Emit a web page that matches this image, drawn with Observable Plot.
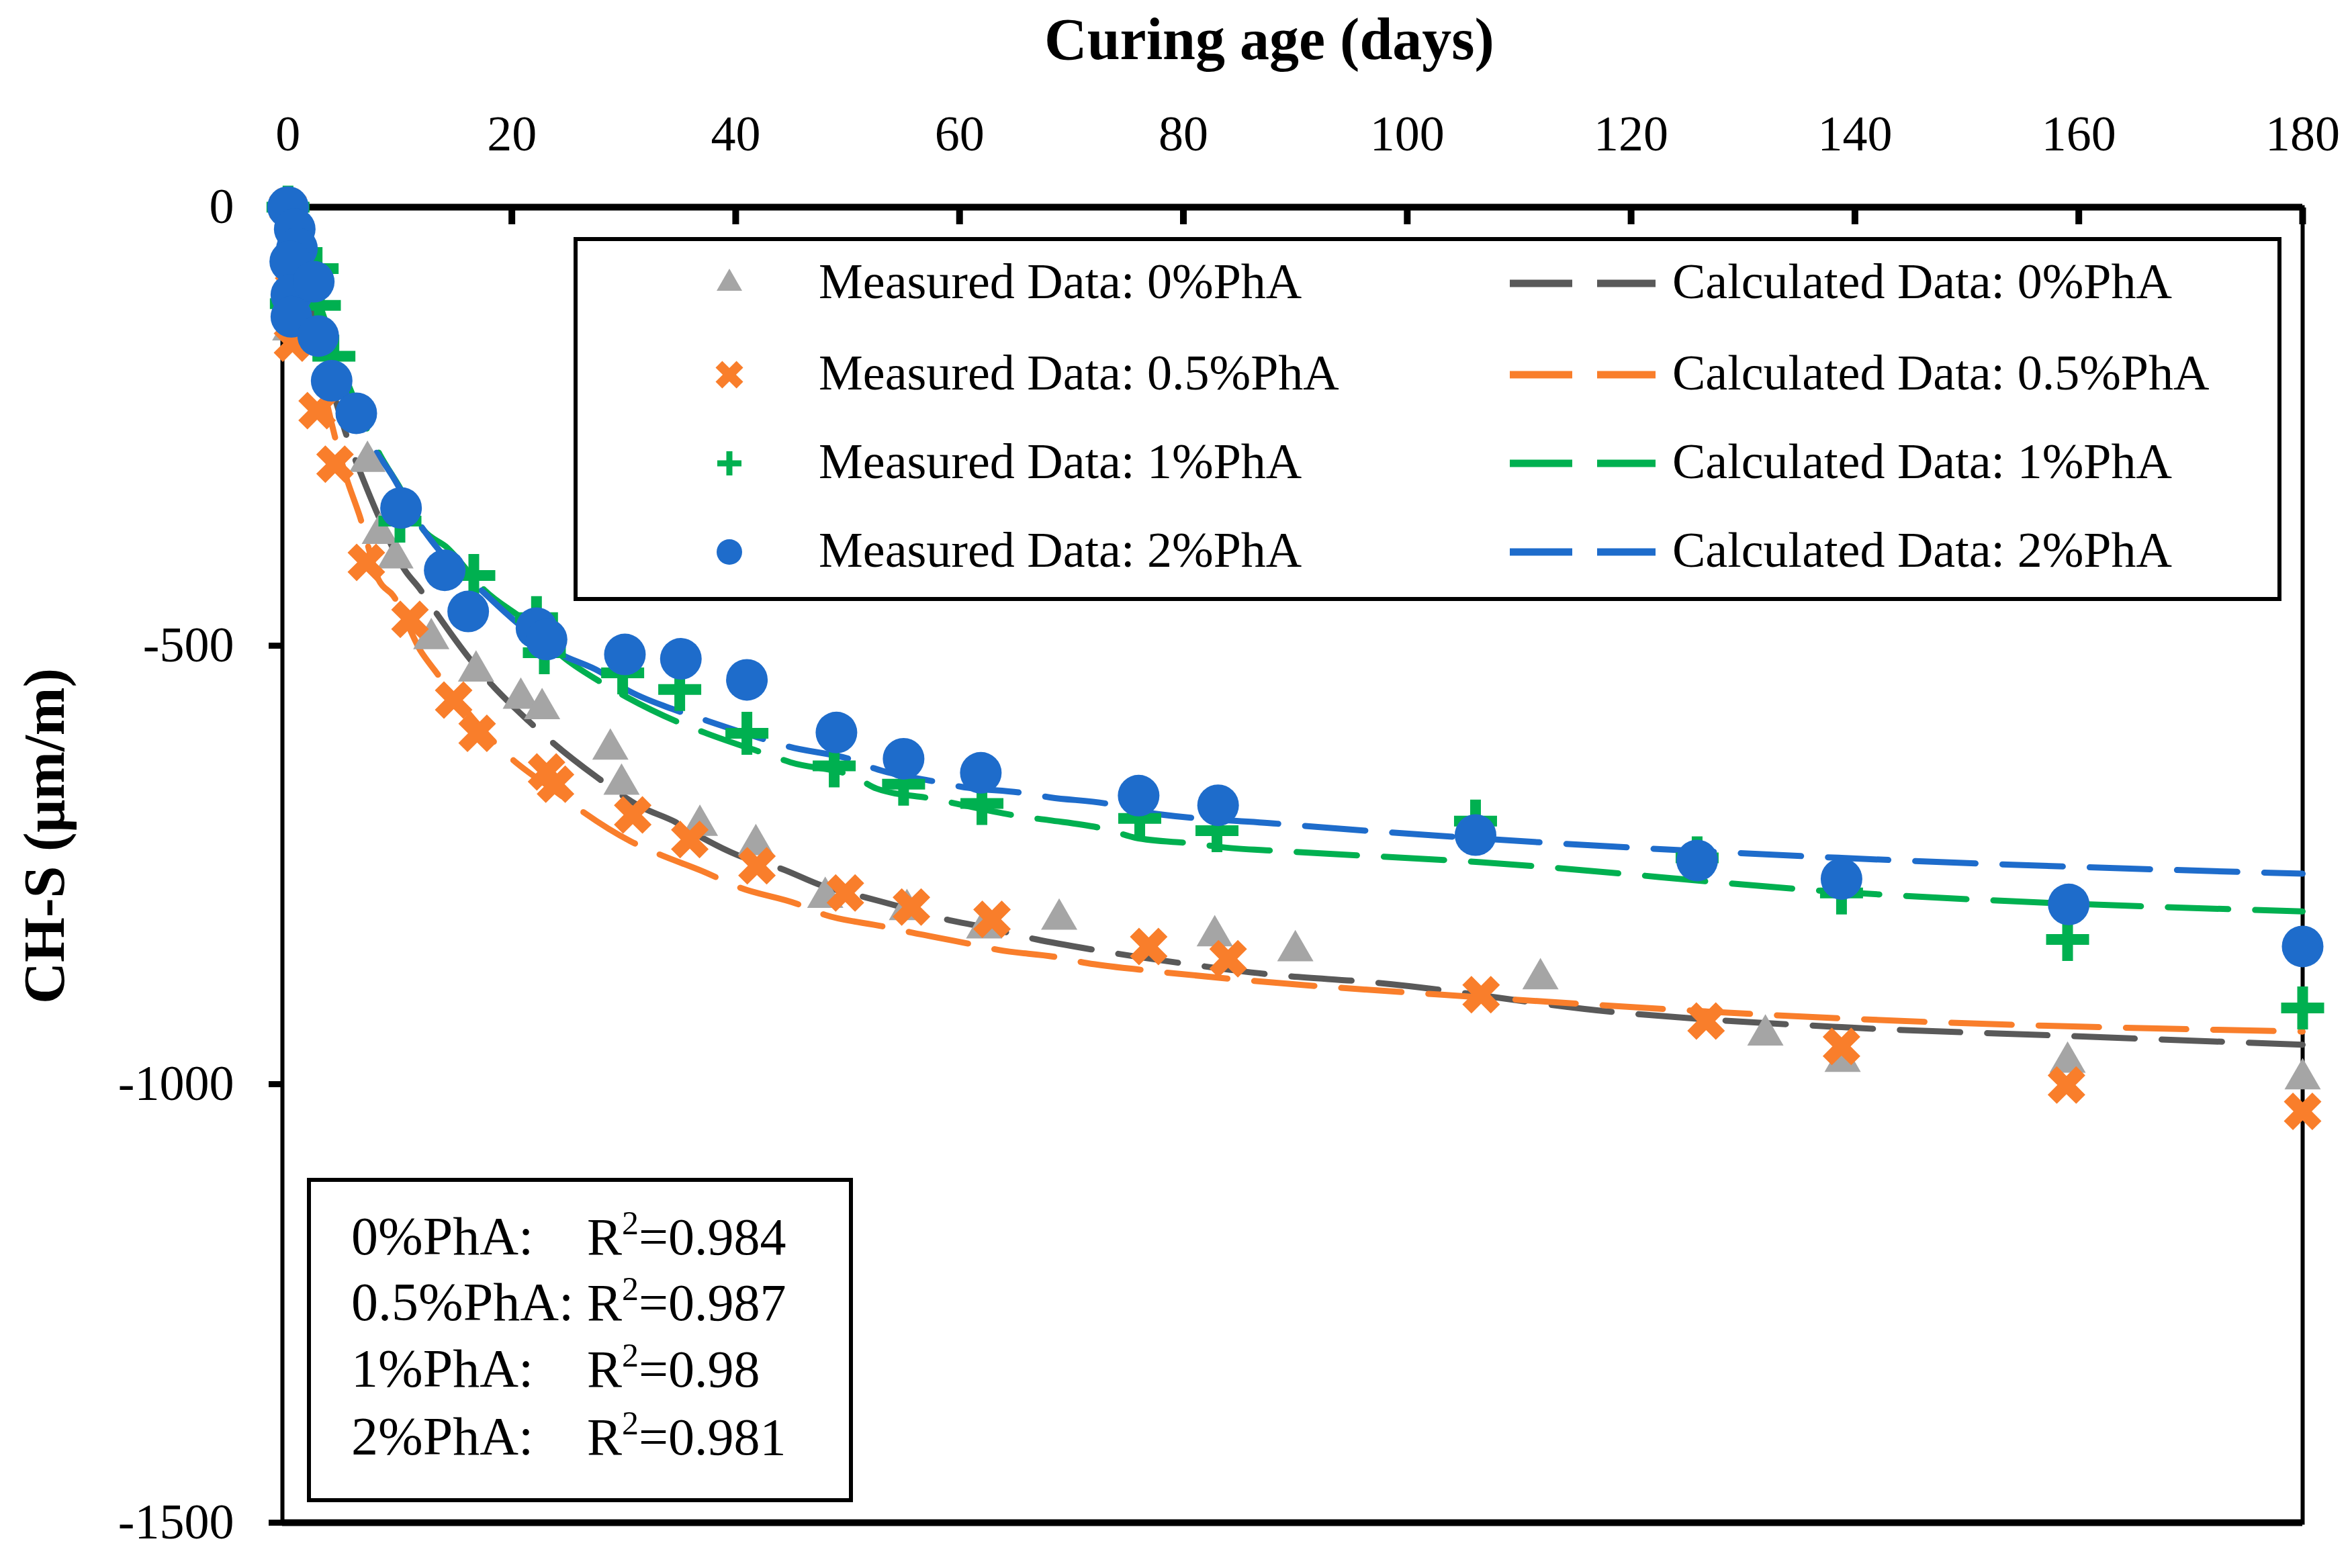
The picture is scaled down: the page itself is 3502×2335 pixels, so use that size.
<!DOCTYPE html>
<html><head><meta charset="utf-8">
<script src="https://cdn.jsdelivr.net/npm/d3@7"></script>
<script src="https://cdn.jsdelivr.net/npm/@observablehq/plot@0.6"></script>
<style>
html,body{margin:0;padding:0;background:#fff;}
#wrap{position:relative;width:3502px;height:2335px;overflow:hidden;background:#fff;}
#wrap svg{position:absolute;left:0;top:0;}
</style></head><body><div id="wrap"></div>
<script>
// ---------- data ----------
const xTicks = [0, 20, 40, 60, 80, 100, 120, 140, 160, 180];
const yTicks = [0, -500, -1000, -1500];
const seriesNames = ["0%PhA", "0.5%PhA", "1%PhA", "2%PhA"];
const r2Values = ["0.984", "0.987", "0.98", "0.981"];

// measured data [curing age (days), CH-S (µm/m)]
const measured0 = [[0,0],[0.3,-60],[0.2,-140],[7.1,-290],[8.2,-372],[9.6,-400],[12.8,-492],[16.8,-529],[20.8,-560],[22.7,-572],[28.8,-618],[29.8,-658],[36.8,-705],[41.8,-727],[48,-787],[55.3,-801],[62.2,-822],[68.9,-812],[82.8,-831],[90,-848],[111.9,-880],[132,-944],[138.9,-974],[159,-975],[180,-994]];
const measured05 = [[0,0],[0.5,-70],[0.4,-155],[2.6,-232],[4.2,-293],[7,-405],[10.9,-470],[14.8,-562],[16.9,-600],[23.1,-644],[23.9,-658],[30.8,-693],[35.9,-721],[41.9,-751],[49.8,-782],[55.7,-798],[62.9,-812],[76.9,-843],[84,-857],[106.6,-898],[126.7,-928],[138.8,-957],[158.9,-1001],[180,-1031]];
const measured1 = [[0,0],[0.3,-110],[2.6,-70],[2.8,-112],[4.1,-170],[10,-358],[16.6,-420],[22.2,-468],[22.9,-508],[29.9,-531],[35,-550],[41,-600],[48.8,-637],[55,-658],[62,-680],[76.1,-697],[83,-711],[106.1,-700],[125.9,-742],[138.8,-782],[159,-835],[180,-913]];
const measured2 = [[0,0],[0.6,-25],[0.8,-47],[0.2,-62],[0.3,-100],[0.3,-125],[2.3,-85],[2.7,-147],[3.9,-198],[6.1,-235],[10.1,-343],[14,-414],[16.1,-461],[22.2,-480],[23.1,-493],[30.1,-510],[35.1,-515],[41,-539],[49,-599],[55,-629],[61.9,-645],[76,-671],[83.1,-682],[106.1,-716],[125.9,-745],[138.8,-766],[159.1,-795],[180,-843]];

// calculated (model) curves
const calc0 = [[0,0],[5.6,-274],[6.7,-310],[7.9,-347],[10.5,-415],[11.7,-434],[13.1,-460],[16.3,-516],[18.1,-543],[21.5,-586],[23.6,-610],[27.6,-650],[31.4,-683],[34.6,-701],[37,-719],[40.2,-739],[44,-754],[47.8,-774],[51.6,-787],[55.4,-800],[59.1,-813],[61.9,-820],[66.9,-835],[72.1,-847],[79.8,-862],[87.8,-875],[97,-884],[118.7,-918],[138.8,-935],[158.9,-945],[180,-955]];
const calc05 = [[0,0],[5.2,-308],[6.4,-352],[8.1,-425],[9.4,-443],[11.9,-507],[13.1,-528],[19.9,-628],[24.1,-668],[26.3,-689],[30.6,-723],[33,-737],[37,-757],[40.4,-776],[45.4,-794],[48,-807],[53.1,-820],[55.7,-827],[60.9,-840],[63.5,-847],[68.6,-855],[71.4,-862],[76.5,-870],[84.3,-880],[106.6,-901],[138.8,-925],[180,-940]];
const calc1 = [[0,0],[8.2,-282],[10,-320],[12.1,-368],[14.2,-388],[17.5,-436],[21.7,-477],[24.4,-511],[28,-542],[30.3,-559],[35,-588],[37.4,-600],[42.6,-623],[44.9,-633],[50.7,-650],[52.6,-663],[57.8,-675],[60,-681],[65.6,-695],[68,-699],[73.3,-710],[75.7,-719],[81.2,-726],[83.6,-730],[88.4,-734],[106.6,-747],[138.8,-781],[180,-803]];
const calc2 = [[0,0],[7.1,-264],[7.8,-278],[9.4,-308],[10.2,-326],[11.8,-362],[13.1,-385],[17.2,-436],[20.1,-470],[24.1,-508],[27.9,-530],[30.1,-549],[34.3,-572],[37.3,-585],[42.6,-607],[44.7,-615],[50.6,-631],[52.4,-640],[57.8,-655],[60.2,-661],[65.7,-668],[68.1,-673],[73.5,-681],[75.7,-688],[88.4,-703],[106.6,-720],[138.8,-742],[180,-760]];

// ---------- styles ----------
const FONT = "'Liberation Serif','Times New Roman',serif";
const markerColors = ["#A5A5A5", "#F97E2B", "#00B050", "#1E6CCB"];
const lineColors = ["#595959", "#F97E2B", "#00B050", "#1E6CCB"];

// custom symbols (Excel-like)
const triangleSym = {draw(c, size) {
  const r = Math.sqrt(size / Math.PI), s = 2 * r, h = s * Math.sqrt(3) / 2;
  c.moveTo(0, -2 * h / 3); c.lineTo(s / 2, h / 3); c.lineTo(-s / 2, h / 3); c.closePath();
}};
function crossPts(r, t) {
  return [[-r,-t],[-t,-t],[-t,-r],[t,-r],[t,-t],[r,-t],[r,t],[t,t],[t,r],[-t,r],[-t,t],[-r,t]];
}
const plusSym = {draw(c, size) {
  const r = Math.sqrt(size / Math.PI), t = r * 0.25;
  crossPts(r, t).forEach(([x, y], i) => i ? c.lineTo(x, y) : c.moveTo(x, y)); c.closePath();
}};
const xSym = {draw(c, size) {
  const r = Math.sqrt(size / Math.PI), t = r * 0.32, k = Math.SQRT1_2;
  crossPts(r, t).forEach(([x, y], i) => {
    const X = (x - y) * k, Y = (x + y) * k;
    i ? c.lineTo(X, Y) : c.moveTo(X, Y);
  }); c.closePath();
}};
const symbols = [triangleSym, xSym, plusSym, "circle"];
const plotR = [27, 30, 32, 31];
const legendR = [19, 22, 18, 19];

const measured = [measured0, measured05, measured1, measured2];
const calculated = [calc0, calc05, calc1, calc2];
const rows = (arr) => arr.map(([day, value]) => ({day, value}));

const lineMarks = calculated.map((arr, i) => Plot.line(rows(arr), {
  x: "day", y: "value", stroke: lineColors[i], strokeWidth: 9,
  strokeDasharray: "90,40", curve: "monotone-x"
}));
const dotMarks = measured.map((arr, i) => Plot.dot(rows(arr), {
  x: "day", y: "value", r: plotR[i], symbol: symbols[i], fill: markerColors[i], stroke: "none"
}));

const chart = Plot.plot({
  width: 3502, height: 2335,
  marginLeft: 420, marginRight: 74, marginTop: 308, marginBottom: 68,
  style: {fontFamily: FONT, fontSize: "72px", background: "transparent", color: "black", overflow: "visible"},
  x: {domain: [-0.5, 180], ticks: xTicks},
  y: {domain: [-1500, 0], ticks: yTicks},
  marks: [
    Plot.frame({stroke: "black", strokeWidth: 6}),
    Plot.ruleY([0, -1500], {stroke: "black", strokeWidth: 10}),
    Plot.axisX({anchor: "top", ticks: xTicks, tickSize: -25, tickPadding: 110, strokeWidth: 10,
      fontSize: 74, label: null, tickFormat: d => String(d)}),
    Plot.axisY({anchor: "left", ticks: yTicks, tickSize: 20, tickPadding: 52, strokeWidth: 9,
      fontSize: 74, label: null, tickFormat: d => String(d), line: true}),
    ...lineMarks,
    ...dotMarks
  ]
});
document.getElementById("wrap").appendChild(chart);

// ---------- overlay: titles, legend, R² box ----------
const svg = d3.select("#wrap").append("svg")
  .attr("width", 3502).attr("height", 2335).style("font-family", FONT);

svg.append("text").attr("x", 1890).attr("y", 88).attr("text-anchor", "middle")
  .attr("font-weight", "bold").attr("font-size", 88).text("Curing age (days)");
svg.append("text").attr("transform", "translate(95,1245) rotate(-90)").attr("text-anchor", "middle")
  .attr("font-weight", "bold").attr("font-size", 86).text("CH-S (μm/m)");

// legend
const lg = svg.append("g");
lg.append("rect").attr("x", 857).attr("y", 356).attr("width", 2537).attr("height", 536)
  .attr("fill", "white").attr("stroke", "black").attr("stroke-width", 6);
const rowY = [422, 558, 690, 822];
seriesNames.forEach((name, i) => {
  const y = rowY[i];
  const p = d3.path();
  if (symbols[i] === "circle") { p.arc(0, 0, legendR[i], 0, 2 * Math.PI); }
  else symbols[i].draw(p, Math.PI * legendR[i] * legendR[i]);
  lg.append("path").attr("d", p.toString()).attr("transform", `translate(1086,${y})`).attr("fill", markerColors[i]);
  lg.append("text").attr("x", 1219).attr("y", y + 22).attr("font-size", 74).text("Measured Data: " + name);
  lg.append("line").attr("x1", 2248).attr("x2", 2465).attr("y1", y).attr("y2", y)
    .attr("stroke", lineColors[i]).attr("stroke-width", 11).attr("stroke-dasharray", "93,37");
  lg.append("text").attr("x", 2490).attr("y", y + 22).attr("font-size", 74).text("Calculated Data: " + name);
});

// R² box
const rb = svg.append("g");
rb.append("rect").attr("x", 460).attr("y", 1757).attr("width", 807).attr("height", 477)
  .attr("fill", "white").attr("stroke", "black").attr("stroke-width", 6);
const r2Base = [1868, 1966, 2065, 2166];
seriesNames.forEach((name, i) => {
  rb.append("text").attr("x", 523).attr("y", r2Base[i]).attr("font-size", 80).text(name + ":");
  const t = rb.append("text").attr("x", 874).attr("y", r2Base[i]).attr("font-size", 78);
  t.append("tspan").text("R");
  t.append("tspan").attr("font-size", 50).attr("dy", -30).text("2");
  t.append("tspan").attr("dy", 30).text("=" + r2Values[i]);
});
</script></body></html>
